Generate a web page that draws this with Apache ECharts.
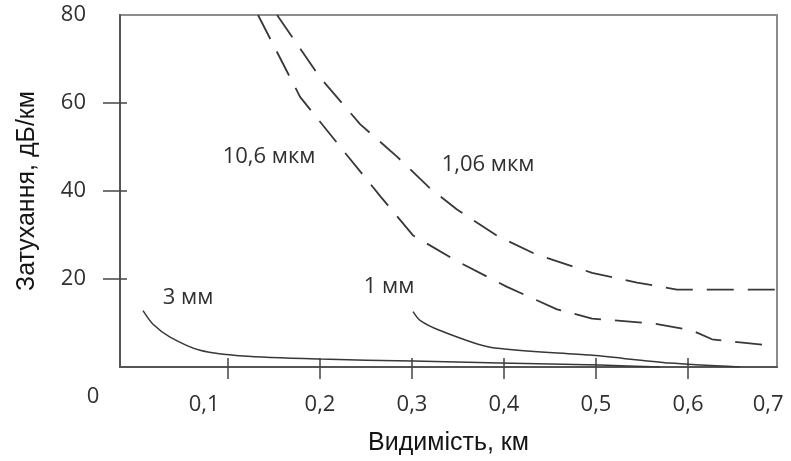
<!DOCTYPE html>
<html>
<head>
<meta charset="utf-8">
<script src="https://cdn.jsdelivr.net/npm/echarts@6/dist/echarts.min.js"></script>
<style>html,body{margin:0;padding:0;background:#fff}#c{width:791px;height:461px}</style>
</head>
<body>
<div id="c"></div>
<script>
// ---- data ----
const curve106umX = [0.1326, 0.1783, 0.2217, 0.2652, 0.3011, 0.3467, 0.4033, 0.4576, 0.4957, 0.5620, 0.6043, 0.6261, 0.6837];
const curve106umY = [80, 61.4, 50.1, 38.9, 29.9, 24.3, 18.2, 13.1, 11.0, 9.9, 8.3, 6.3, 5.0];

const curve1060nmX = [0.1533, 0.2000, 0.2435, 0.2837, 0.3196, 0.3489, 0.3935, 0.4337, 0.4957, 0.5446, 0.5880, 0.6967];
const curve1060nmY = [80, 65.8, 55.2, 47.8, 40.6, 35.8, 29.7, 25.7, 21.4, 19.2, 17.6, 17.6];

const curve1mmX = [0.3011, 0.3087, 0.3304, 0.3848, 0.4935, 0.5804, 0.6565];
const curve1mmY = [12.6, 10.6, 8.3, 4.5, 2.7, 0.9, 0];

const curve3mmX = [0.0076, 0.0185, 0.0370, 0.0696, 0.1163, 0.2000, 0.3011, 0.3957, 0.5043, 0.5696];
const curve3mmY = [12.8, 9.7, 6.8, 3.8, 2.5, 1.8, 1.35, 0.9, 0.45, 0];

const seriesNames = ['10,6 мкм', '1,06 мкм', '1 мм', '3 мм'];
const labelX = [0.1446, 0.3826, 0.275, 0.0565];
const labelY = [47.8, 46.0, 18.3, 15.8];

const xTickValues = [0.1, 0.2, 0.3, 0.4, 0.5, 0.6];
const xLabelValues = [0.074, 0.2, 0.3, 0.4, 0.5, 0.6, 0.687];
const xTickLabels = ['0,1', '0,2', '0,3', '0,4', '0,5', '0,6', '0,7'];
const yTickValues = [20, 40, 60];
const yLabelValues = [20, 40, 60, 80];
const yTickLabels = ['20', '40', '60', '80'];
const zeroLabel = '0';

const xAxisTitle = 'Видимість, км';
const yAxisTitle = 'Затухання, дБ/км';

// ---- chart ----
function pairs(xs, ys) { return xs.map((x, i) => [x, ys[i]]); }
const tickFont = '"Open Sans", sans-serif';
const titleFont = '"Liberation Sans", Arial, sans-serif';
const textColor = '#303030';

const chart = echarts.init(document.getElementById('c'), null, { renderer: 'canvas' });

function mkSeries(idx, xs, ys, dashed) {
  return {
    type: 'line',
    name: seriesNames[idx],
    data: pairs(xs, ys),
    showSymbol: false,
    symbol: 'none',
    smooth: dashed ? false : 0.25,
    lineStyle: { color: '#383838', width: dashed ? 1.8 : 1.5, type: dashed ? [27, 14] : 'solid' },
    animation: false,
    z: 3,
    markPoint: {
      symbol: 'circle', symbolSize: 2, itemStyle: { color: 'rgba(0,0,0,0)' },
      label: { show: true, position: 'inside', formatter: seriesNames[idx], color: textColor, fontSize: 22, fontFamily: tickFont },
      data: [{ coord: [labelX[idx], labelY[idx]] }]
    }
  };
}

const xMin = -0.0174, xMax = 0.6967;

chart.setOption({
  animation: false,
  backgroundColor: '#fff',
  grid: { left: 120, right: 14, top: 15, bottom: 91, show: true, borderColor: '#8c8c8c', borderWidth: 2, backgroundColor: 'transparent' },
  xAxis: [
    {
      type: 'value', min: xMin, max: xMax, position: 'bottom',
      axisLine: { show: true, onZero: false, lineStyle: { color: '#555', width: 2 } },
      axisTick: { show: true, customValues: xTickValues, length: 12, inside: false, lineStyle: { color: '#444', width: 1.5 } },
      axisLabel: {
        show: true, customValues: xLabelValues, margin: 27, fontSize: 22, fontFamily: tickFont, color: textColor,
        formatter: function (v) {
          let best = 0, bd = 1e9;
          xLabelValues.forEach((p, i) => { const d = Math.abs(p - v); if (d < bd) { bd = d; best = i; } });
          return xTickLabels[best];
        }
      },
      splitLine: { show: false },
      name: xAxisTitle, nameLocation: 'middle', nameGap: 64,
      nameTextStyle: { fontSize: 25, fontFamily: titleFont, color: '#151515' }
    },
    {
      type: 'value', min: xMin, max: xMax, position: 'bottom',
      axisLine: { show: false, onZero: false },
      axisTick: { show: true, customValues: xTickValues, length: 9, inside: true, lineStyle: { color: '#444', width: 1.5 } },
      axisLabel: { show: false },
      splitLine: { show: false }
    }
  ],
  yAxis: [
    {
      type: 'value', min: 0, max: 80, position: 'left',
      axisLine: { show: true, onZero: false, lineStyle: { color: '#555', width: 2 } },
      axisTick: { show: true, customValues: yTickValues, length: 17, inside: false, lineStyle: { color: '#444', width: 1.5 } },
      axisLabel: {
        show: true, customValues: yLabelValues, margin: 34, fontSize: 22, fontFamily: tickFont, color: textColor,
        formatter: function (v) { const i = yLabelValues.indexOf(v); return i >= 0 ? yTickLabels[i] : ''; }
      },
      splitLine: { show: false },
      name: yAxisTitle, nameLocation: 'middle', nameGap: 80,
      nameTextStyle: { fontSize: 25, fontFamily: titleFont, color: '#151515' }
    },
    {
      type: 'value', min: 0, max: 80, position: 'left',
      axisLine: { show: false, onZero: false },
      axisTick: { show: true, customValues: yTickValues, length: 7, inside: true, lineStyle: { color: '#444', width: 1.5 } },
      axisLabel: { show: false },
      splitLine: { show: false }
    }
  ],
  graphic: [
    { type: 'text', x: 93, y: 397, style: { text: zeroLabel, fontSize: 22, fontFamily: tickFont, fill: textColor, align: 'center', verticalAlign: 'middle' } }
  ],
  series: [
    mkSeries(0, curve106umX, curve106umY, true),
    mkSeries(1, curve1060nmX, curve1060nmY, true),
    mkSeries(2, curve1mmX, curve1mmY, false),
    mkSeries(3, curve3mmX, curve3mmY, false)
  ]
});
</script>
</body>
</html>
